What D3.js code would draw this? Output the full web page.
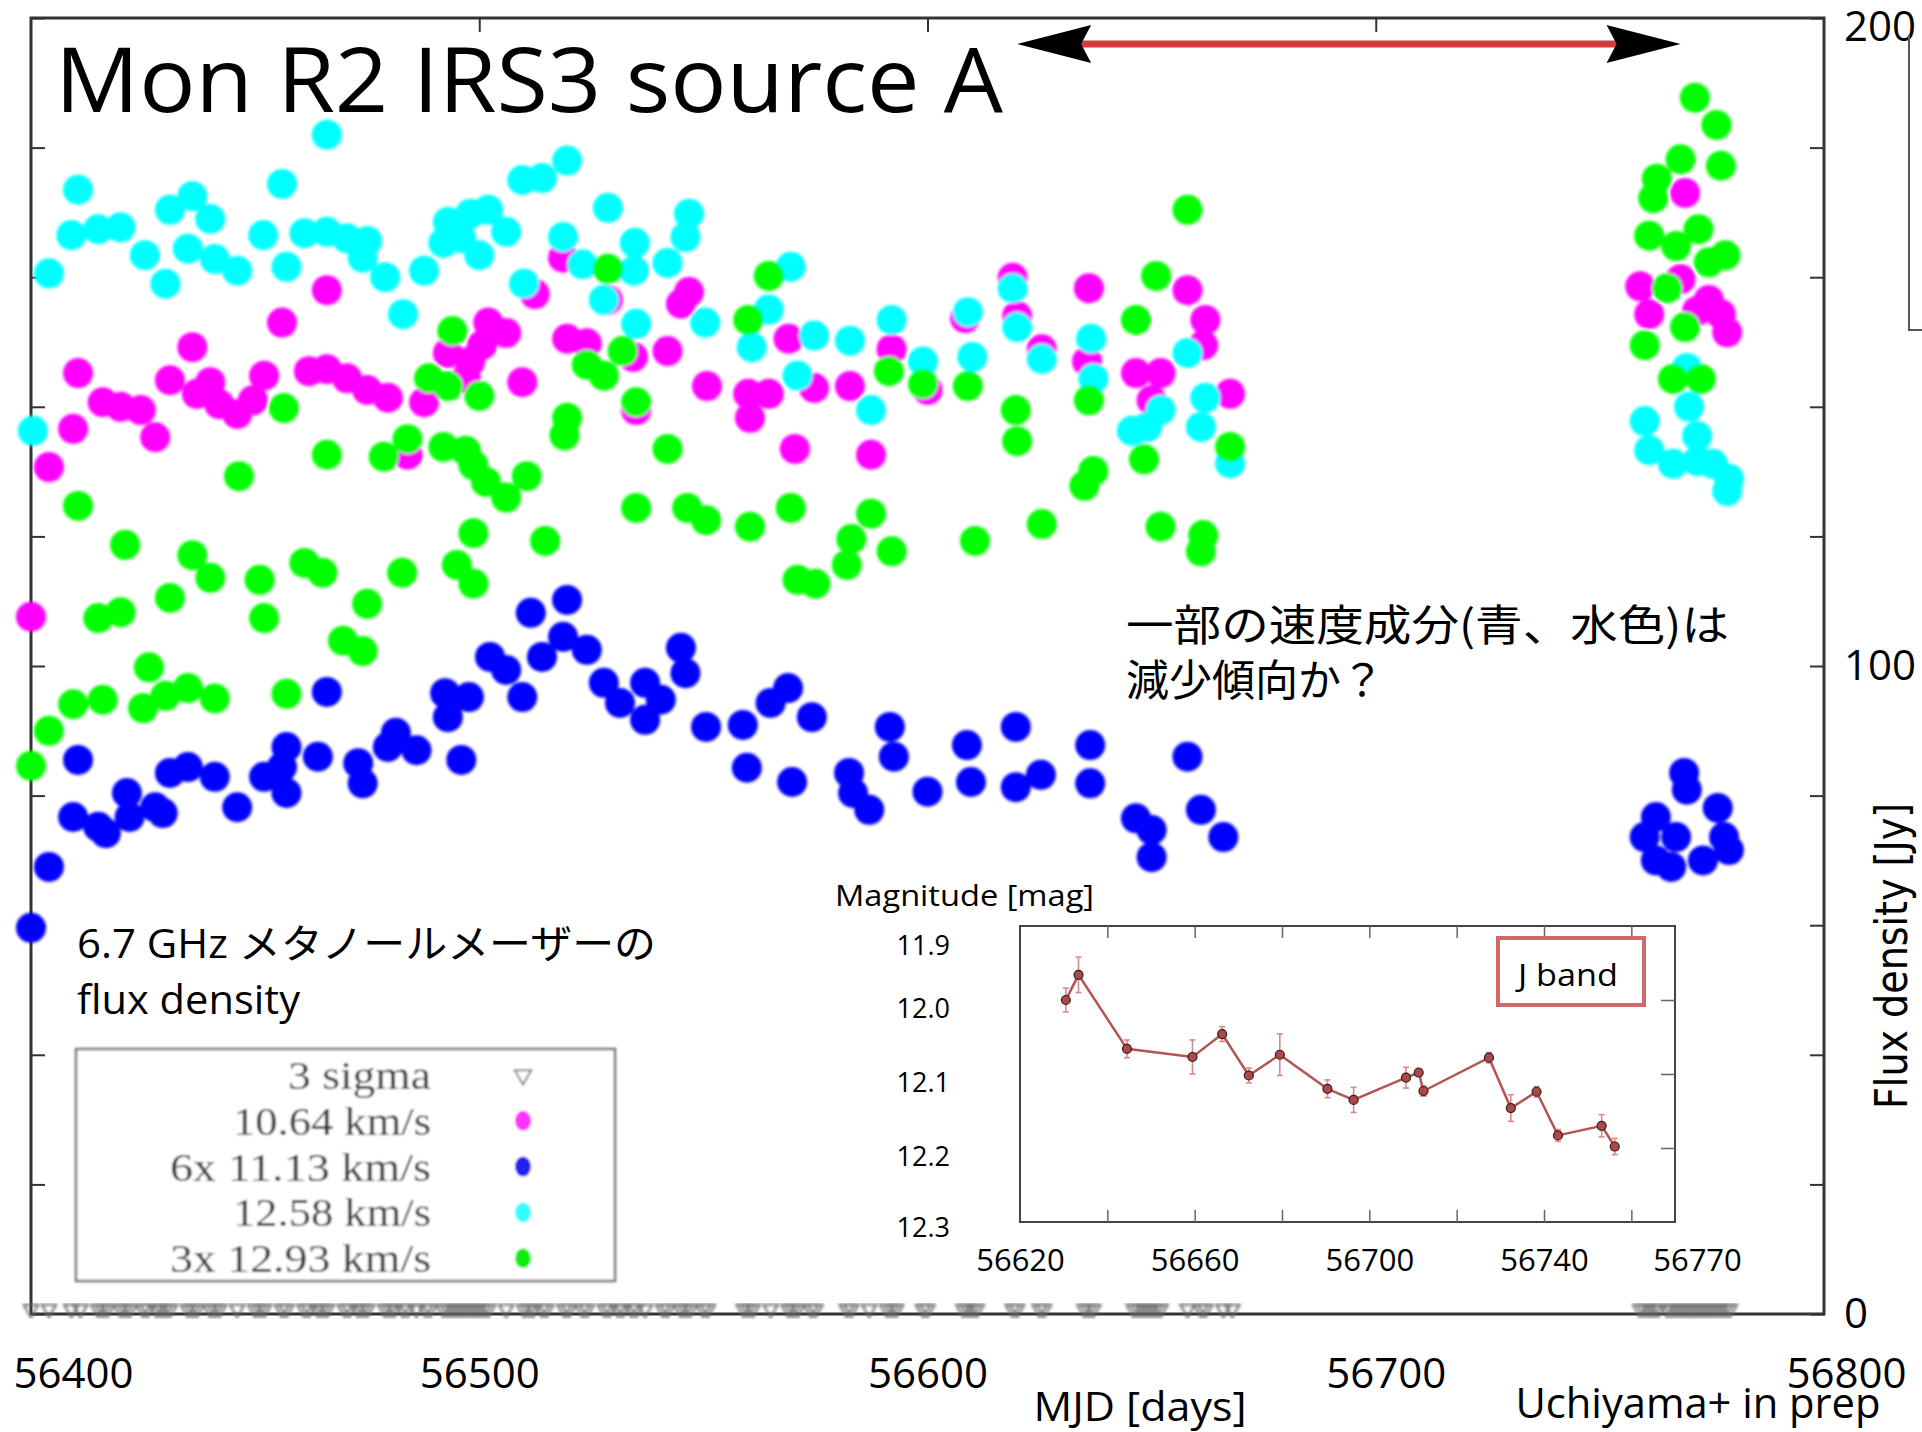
<!DOCTYPE html>
<html>
<head>
<meta charset="utf-8">
<script src="https://cdnjs.cloudflare.com/ajax/libs/d3/7.8.5/d3.min.js"></script>
<style>
body { margin: 0; background: #fff; }
svg { display: block; }
</style>
</head>
<body>
<script>
// 6.7 GHz maser light curves, [MJD, Jy] as plotted
let v1064 = [
  [56400.0,107.6],[56404,130.7],[56409.4,136.6],[56410.5,145.2],[56416,140.7],[56420,140],[56424.5,139.5],
  [56427.7,135.3],[56431,144.1],[56436,149.2],[56437,142],[56440,143.8],[56442,140.4],[56446,138.9],
  [56449.5,141],[56452,144.8],[56456,153],[56462,145.5],[56466,158],[56466,145.8],[56470.5,144.4],
  [56475,142.6],[56479.6,141.4],[56484,132.6],[56487.7,140.7],[56493,148.3],[56497,144.4],[56498,147],
  [56500.6,149.5],[56502,153],[56506,151.4],[56509.6,143.8],[56512.4,157.4],[56518.7,163],[56519.6,150.5],
  [56524,149.8],[56528.7,156.5],[56534.3,147.7],[56535,139.5],[56542,148.6],[56545,155.9],[56546.8,157.7],
  [56550.8,143.2],[56560,142],[56560.4,138.3],[56564.6,142],[56569,150.5],[56570.4,133.5],[56574.7,142.9],
  [56582.7,143.2],[56587.4,132.6],[56592,148.9],[56600,142.6],[56608.4,153.7],[56619,159.9],[56620,154],
  [56625.5,148.9],[56635.6,147],[56636,158.3],[56646.5,145.2],[56650,141],[56652,145.2],[56658,158],
  [56661.5,149.5],[56662,153.4],[56667.5,142],
  [56759,158.6],[56761,154.3],[56768,159.7],[56769,173],[56771.7,154.8],[56774.3,156.5],[56777,154.3],[56778.4,151.5]
]
let v1113 = [
  [56400,59.6],[56404,69],[56409.4,76.7],[56410.5,85.5],[56415,75.2],[56416.7,74.2],[56421.4,80.4],[56422,76.7],
  [56427.7,78.2],[56429.4,77.3],[56431,83.5],[56435,84.4],[56441,82.9],[56446,78.2],[56452,82.9],[56456,84.4],
  [56457,87.5],[56457,80.4],[56464,86],[56466,96],[56473,85],[56474,81.9],[56479.6,87.5],[56481.4,89.7],
  [56486,87],[56492.4,95.8],[56493,92.1],[56496,85.5],[56497.7,95.2],[56502.4,101.4],[56506,99.4],[56509.6,95.2],
  [56511.5,108.2],[56514,101.4],[56518.7,104.5],[56519.6,110.2],[56524,102.5],[56527.8,97.4],[56531.4,94.3],
  [56537,97.4],[56537,91.7],[56540.5,94.8],[56545,102.8],[56546,98.9],[56550.6,90.6],[56558.8,90.9],
  [56559.7,84.3],[56565,94.3],[56568.9,96.6],[56569.8,82.1],[56574.2,92.1],[56582.5,83.5],[56583.4,80.4],
  [56587,77.8],[56591.6,90.6],[56592.5,86],[56600,80.6],[56608.8,87.8],[56609.7,82.1],[56619.7,90.6],
  [56619.7,81.3],[56625.3,83.2],[56636.3,87.8],[56636.3,81.9],[56646.5,76.5],[56650,74.7],[56650,70.5],
  [56658,86],[56661,77.8],[56666,73.6],
  [56760,73.6],[56762.5,76.7],[56762.5,70],[56765.9,69],[56767,73.6],[56768.8,83.5],[56769.4,80.9],
  [56773,70],[56776.3,78.1],[56777.7,73.6],[56778.8,71.6]
]
let v1258 = [
  [56400.4,136.3],[56404,160.6],[56409,166.5],[56410.5,173.5],[56415,167.4],[56420,167.7],[56425.4,163.4],
  [56430,159],[56431,170.4],[56435,164.4],[56436,172.5],[56440,169],[56441,162.8],[56446,161],[56451.8,166.5],
  [56456,174.4],[56457,161.6],[56461,166.8],[56466,182],[56466,167],[56470.5,166],[56474,163],[56475,165.6],
  [56479,160],[56483,154.3],[56487.7,161],[56492,165.3],[56493,168.5],[56496,166],[56498,169.8],[56500,163.4],
  [56502,170.4],[56506,167],[56509.6,175],[56510,159],[56514,175.3],[56518.7,166.2],[56519.6,178],[56523,162],
  [56527.8,156.5],[56528.7,170.7],[56534.5,161],[56534.7,165.3],[56535,152.8],[56542,162.2],[56546,166.2],
  [56546.8,169.8],[56550.4,153],[56560.8,149.2],[56564.6,155],[56569.5,161.6],[56571,144.8],[56574.7,151],
  [56582.7,150.2],[56587.4,139.5],[56592,153.4],[56599,147],[56609,154.6],[56610,147.7],[56619,158.3],
  [56620,152.3],[56625.5,147.4],[56636.5,150.5],[56637,144.4],[56645.6,136.3],[56649,136.9],[56652,139.5],
  [56658,148.3],[56661,136.9],[56662,141.4],[56667.5,131.3],
  [56760,137.8],[56761,133.3],[56766.3,131.2],[56769.4,146],[56769.9,140],[56771.7,135.5],[56771.7,131.6],
  [56775.2,131.2],[56778.4,127],[56778.8,128.9]
]
let v1293 = [
  [56400,84.6],[56404,90],[56409.4,94.1],[56410.5,124.7],[56415,107.4],[56416,94.8],[56420,108.3],[56421,118.7],
  [56425,93.5],[56426.3,99.8],[56430,95.4],[56431,110.5],[56435,96.6],[56436,117.1],[56440,113.6],[56441,95],
  [56446.4,129.3],[56451,113.3],[56452,107.4],[56456.4,139.8],[56457,95.7],[56461,115.9],[56465,114.4],
  [56466,132.6],[56469.6,103.9],[56474,102.3],[56475,109.6],[56478.7,132.3],[56482.8,114.4],[56484,135],
  [56488.8,144.4],[56492,133.8],[56493,143.2],[56494,151.7],[56495,115.6],[56497,133.2],[56498.7,131],
  [56498.7,120.5],[56498.7,112.7],[56500,141.7],[56501.5,128.4],[56506,126],[56510.6,129.3],[56514.7,119.3],
  [56519,135.6],[56519.6,138.3],[56524,146.5],[56527.8,144.8],[56528.7,161.3],[56532,148.6],[56535,140.7],
  [56535,124.4],[56542,133.5],[56546.4,124.4],[56550.6,122.5],[56560,153.4],[56560.4,121.5],[56564.6,160.2],
  [56569.5,124.4],[56571,113.3],[56575,112.7],[56582,115.6],[56583,119.6],[56587.4,123.5],[56591.4,145.5],
  [56592,117.7],[56599,143.5],[56609,143.2],[56610.6,119.3],[56619.7,139.5],[56620,134.7],[56625.5,121.9],
  [56635,127.8],[56636,141],[56637,130.1],[56646.5,153.4],[56648.3,131.9],[56651,160.2],[56652,121.5],
  [56658,170.4],[56661,117.7],[56661.5,120.2],[56667.5,133.8],
  [56760,149.5],[56761,166.4],[56761.9,172.2],[56762.7,175.2],[56765,158.3],[56766.3,144.3],[56767,164.8],
  [56768,178.2],[56769,152.3],[56771.2,187.7],[56772,167.4],[56772.5,144.3],[56774.3,162.3],[56776,183.5],
  [56777,177.2],[56778,163.4]
]

// J band inset: [MJD, mag, error]
let jband = [
  [56630.5,12.000,0.016],[56633.4,11.966,0.024],[56644.5,12.066,0.012],[56659.5,12.077,0.023],
  [56666.3,12.046,0.010],[56672.4,12.102,0.010],[56679.5,12.074,0.028],[56690.4,12.120,0.012],
  [56696.4,12.135,0.017],[56708.4,12.105,0.014],[56711.3,12.098,0.004],[56712.4,12.123,0.007],
  [56727.4,12.078,0.007],[56732.4,12.146,0.018],[56738.3,12.124,0.007],[56743.2,12.183,0.008],
  [56753.2,12.170,0.015],[56756.2,12.198,0.011]
]

let legendLabels = ["3 sigma", "10.64 km/s", "6x 11.13 km/s", "12.58 km/s", "3x 12.93 km/s"]
let xTicks = [56400, 56500, 56600, 56700, 56800]
let yTicks = [0, 20, 40, 60, 80, 100, 120, 140, 160, 180, 200]
let insetXTicks = [56640, 56660, 56680, 56700, 56720, 56740, 56760]
let insetXLabels = [56620, 56660, 56700, 56740, 56770]
let insetYTicks = [11.9, 12.0, 12.1, 12.2, 12.3]
let arrowRange = [56620, 56768]

draw()

function draw() {
    let w = 1922
    let h = 1432
    let svg = setCanvas(w, h)
    let defs = svg.append("defs")
    defs.append("filter").attr("id", "soft")
        .append("feGaussianBlur").attr("stdDeviation", 1.4)
    defs.append("filter").attr("id", "fuzz")
        .append("feGaussianBlur").attr("stdDeviation", 0.9)

    let x = d3.scaleLinear().domain([56400, 56800]).range([31, 1824])
    let y = d3.scaleLinear().domain([0, 200]).range([1314, 18])

    // frame
    svg.append("rect")
        .attr("x", x(56400)).attr("y", y(200))
        .attr("width", x(56800) - x(56400)).attr("height", y(0) - y(200))
        .attr("fill", "none").attr("stroke", "#333").attr("stroke-width", 3)

    let top = svg.append("g").attr("transform", `translate(0,${y(200)})`)
        .call(d3.axisTop(x).tickValues([56500, 56600, 56700]).tickSize(-14).tickFormat(""))
    let bottom = svg.append("g").attr("transform", `translate(0,${y(0)})`)
        .call(d3.axisBottom(x).tickValues(xTicks).tickSize(-14).tickPadding(44).tickFormat(d3.format("d")))
    let left = svg.append("g").attr("transform", `translate(${x(56400)},0)`)
        .call(d3.axisLeft(y).tickValues(yTicks).tickSize(-14).tickFormat(""))
    let right = svg.append("g").attr("transform", `translate(${x(56800)},0)`)
        .call(d3.axisRight(y).tickValues(yTicks).tickSize(-14).tickPadding(20)
            .tickFormat(d => d % 100 === 0 ? d : ""))
    ;[top, bottom, left, right].forEach(a => {
        a.select(".domain").remove()
        a.selectAll("line").attr("stroke", "#333").attr("stroke-width", 2)
        a.selectAll("text").attr("fill", "#000").style("font-family", "'Open Sans'").style("font-size", "42px")
    })
    right.selectAll("text").attr("text-anchor", "start")
        .attr("y", d => d === 200 ? 9 : 0)
    bottom.selectAll(".tick line").attr("stroke", "none")
    bottom.selectAll("text")
        .attr("text-anchor", d => d === 56400 ? "start" : "middle")
        .attr("x", d => d === 56400 ? -18 : (d === 56800 ? 22 : (d === 56700 ? 10 : 0)))

    // 3 sigma upper limits along the bottom
    let dates = Array.from(new Set([v1064, v1113, v1258, v1293].flat().map(d => Math.round(d[0])))).sort((a, b) => a - b)
    svg.append("g").attr("filter", "url(#soft)").selectAll("path")
        .data(dates)
        .enter()
        .append("path")
            .attr("d", d3.symbol(d3.symbolTriangle, 90))
            .attr("transform", d => `translate(${x(d)},${y(0.8)}) rotate(180)`)
            .attr("fill", "none").attr("stroke", "#666").attr("stroke-width", 2)

    // maser points
    let series = [
        {data: v1064, color: "#ff00ff"},
        {data: v1113, color: "#0000ff"},
        {data: v1258, color: "#00ffff"},
        {data: v1293, color: "#00ff00"}
    ]
    let pts = svg.append("g").attr("filter", "url(#soft)")
    series.forEach(s => {
        pts.append("g").selectAll("circle")
            .data(s.data)
            .enter()
            .append("circle")
                .attr("cx", d => x(d[0]))
                .attr("cy", d => y(d[1]))
                .attr("r", 15)
                .attr("fill", s.color)
    })

    // arrow showing the J band period
    let ay = y(196)
    let x0 = x(arrowRange[0]), x1 = x(arrowRange[1])
    svg.append("line")
        .attr("x1", x0 + 60).attr("x2", x1 - 60).attr("y1", ay).attr("y2", ay)
        .attr("stroke", "#d23c3c").attr("stroke-width", 7)
    svg.append("path")
        .attr("d", `M${x0},${ay} L${x0 + 74},${ay - 19} L${x0 + 64},${ay} L${x0 + 74},${ay + 19} Z`)
        .attr("fill", "#000")
    svg.append("path")
        .attr("d", `M${x1},${ay} L${x1 - 74},${ay - 19} L${x1 - 64},${ay} L${x1 - 74},${ay + 19} Z`)
        .attr("fill", "#000")

    // title and notes
    svg.append("text").attr("x", 55).attr("y", 112)
        .attr("font-family", "'Open Sans'").attr("font-size", 90)
        .attr("textLength", 948).attr("lengthAdjust", "spacingAndGlyphs")
        .text("Mon R2 IRS3 source A")
    svg.append("text").attr("x", 1126).attr("y", 641)
        .attr("font-family", "'Noto Sans CJK JP'").attr("font-size", 43)
        .attr("textLength", 603).attr("lengthAdjust", "spacingAndGlyphs")
        .text("一部の速度成分(青、水色)は")
    svg.append("text").attr("x", 1126).attr("y", 696)
        .attr("font-family", "'Noto Sans CJK JP'").attr("font-size", 43)
        .text("減少傾向か？")
    svg.append("text").attr("x", 77).attr("y", 958)
        .attr("font-family", "'Open Sans','Noto Sans CJK JP'").attr("font-size", 40)
        .attr("textLength", 579).attr("lengthAdjust", "spacingAndGlyphs")
        .text("6.7 GHz メタノールメーザーの")
    svg.append("text").attr("x", 77).attr("y", 1014)
        .attr("font-family", "'Open Sans'").attr("font-size", 40)
        .attr("textLength", 223).attr("lengthAdjust", "spacingAndGlyphs")
        .text("flux density")

    drawLegend(svg)
    drawInset(svg)

    // axis titles
    svg.append("text").attr("x", 1140).attr("y", 1421)
        .attr("text-anchor", "middle")
        .attr("font-family", "'Open Sans'").attr("font-size", 40)
        .attr("textLength", 213).attr("lengthAdjust", "spacingAndGlyphs")
        .text("MJD [days]")
    svg.append("text").attr("x", 1698).attr("y", 1418)
        .attr("text-anchor", "middle")
        .attr("font-family", "'Open Sans'").attr("font-size", 42)
        .attr("textLength", 365).attr("lengthAdjust", "spacingAndGlyphs")
        .text("Uchiyama+ in prep")
    svg.append("text")
        .attr("transform", "translate(1891,956) rotate(-90)")
        .attr("text-anchor", "middle").attr("dominant-baseline", "central")
        .attr("font-family", "'DejaVu Sans'").attr("font-size", 44)
        .attr("textLength", 306).attr("lengthAdjust", "spacingAndGlyphs")
        .text("Flux density [Jy]")

    // edge of a box cut off at the right
    svg.append("path").attr("d", "M1909,35 L1909,330 L1922,330")
        .attr("fill", "none").attr("stroke", "#555").attr("stroke-width", 2)
}

function drawLegend(svg) {
    let g = svg.append("g").attr("filter", "url(#fuzz)")
    g.append("rect").attr("x", 76).attr("y", 1049).attr("width", 539).attr("height", 232)
        .attr("fill", "#fff").attr("stroke", "#777").attr("stroke-width", 2.5)
    let widths = [143, 198, 261, 198, 261]
    let colors = [null, "#ff33ff", "#2222ee", "#33ffff", "#11ee11"]
    legendLabels.forEach((l, i) => {
        let cy = 1075 + i * 45.8
        g.append("text").attr("x", 431).attr("y", cy)
            .attr("text-anchor", "end").attr("dominant-baseline", "central")
            .attr("font-family", "'Liberation Serif'").attr("font-size", 41).attr("fill", "#333")
            .attr("textLength", widths[i]).attr("lengthAdjust", "spacingAndGlyphs")
            .text(l)
        if (i === 0) {
            g.append("path").attr("d", d3.symbol(d3.symbolTriangle, 120))
                .attr("transform", `translate(523,${cy}) rotate(180)`)
                .attr("fill", "none").attr("stroke", "#888").attr("stroke-width", 2)
        } else {
            g.append("ellipse").attr("cx", 523).attr("cy", cy).attr("rx", 8).attr("ry", 10)
                .attr("fill", colors[i])
        }
    })
}

function drawInset(svg) {
    let xi = d3.scaleLinear().domain([56620, 56770]).range([1020, 1675])
    let yi = d3.scaleLinear().domain([11.9, 12.3]).range([926, 1222])
    svg.append("rect").attr("x", xi(56620)).attr("y", yi(11.9))
        .attr("width", xi(56770) - xi(56620)).attr("height", yi(12.3) - yi(11.9))
        .attr("fill", "#fff").attr("stroke", "#444").attr("stroke-width", 2)

    let axes = [
        svg.append("g").attr("transform", `translate(0,${yi(11.9)})`)
            .call(d3.axisTop(xi).tickValues(insetXTicks).tickSize(-12).tickFormat("")),
        svg.append("g").attr("transform", `translate(0,${yi(12.3)})`)
            .call(d3.axisBottom(xi).tickValues(insetXTicks).tickSize(-12).tickFormat("")),
        svg.append("g").attr("transform", `translate(${xi(56770)},0)`)
            .call(d3.axisRight(yi).tickValues([12.0, 12.1, 12.2]).tickSize(-14).tickFormat("")),
        svg.append("g").attr("transform", `translate(0,${yi(12.3)})`)
            .call(d3.axisBottom(xi).tickValues(insetXLabels).tickSize(0).tickPadding(27).tickFormat(d3.format("d"))),
        svg.append("g").attr("transform", `translate(${xi(56620)},0)`)
            .call(d3.axisLeft(yi).tickValues(insetYTicks).tickSize(0).tickPadding(70).tickFormat(d3.format(".1f")))
    ]
    axes.forEach(a => {
        a.select(".domain").remove()
        a.selectAll("line").attr("stroke", "#666").attr("stroke-width", 1.5)
        a.selectAll("text").attr("fill", "#000").style("font-family", "'Open Sans'")
    })
    axes[3].selectAll("text").style("font-size", "31px")
        .attr("x", d => d === 56770 ? 22 : 0)
    axes[4].selectAll("text").style("font-size", "27px")
        .attr("y", d => d === 11.9 ? 20 : (d === 12.3 ? 6 : 9))

    svg.append("text").attr("x", 835).attr("y", 906)
        .attr("font-family", "'Open Sans'").attr("font-size", 29)
        .attr("textLength", 259).attr("lengthAdjust", "spacingAndGlyphs")
        .text("Magnitude [mag]")

    // J band legend box
    svg.append("rect").attr("x", 1498).attr("y", 938).attr("width", 146).attr("height", 67)
        .attr("fill", "#fff").attr("stroke", "#d06a6a").attr("stroke-width", 4)
    svg.append("text").attr("x", 1568).attr("y", 974)
        .attr("text-anchor", "middle").attr("dominant-baseline", "central")
        .attr("font-family", "'Open Sans'").attr("font-size", 31)
        .attr("textLength", 100).attr("lengthAdjust", "spacingAndGlyphs")
        .text("J band")

    let eb = svg.append("g").attr("stroke", "#d98a8a").attr("stroke-width", 1.6)
    eb.selectAll("line.v").data(jband).enter().append("line")
        .attr("x1", d => xi(d[0])).attr("x2", d => xi(d[0]))
        .attr("y1", d => yi(d[1] - d[2])).attr("y2", d => yi(d[1] + d[2]))
    eb.selectAll("line.t").data(jband).enter().append("line")
        .attr("x1", d => xi(d[0]) - 3).attr("x2", d => xi(d[0]) + 3)
        .attr("y1", d => yi(d[1] - d[2])).attr("y2", d => yi(d[1] - d[2]))
    eb.selectAll("line.b").data(jband).enter().append("line")
        .attr("x1", d => xi(d[0]) - 3).attr("x2", d => xi(d[0]) + 3)
        .attr("y1", d => yi(d[1] + d[2])).attr("y2", d => yi(d[1] + d[2]))

    svg.append("path").datum(jband)
        .attr("d", d3.line().x(d => xi(d[0])).y(d => yi(d[1])))
        .attr("fill", "none").attr("stroke", "#b35555").attr("stroke-width", 2.5)
    svg.append("g").selectAll("circle")
        .data(jband)
        .enter()
        .append("circle")
            .attr("cx", d => xi(d[0])).attr("cy", d => yi(d[1])).attr("r", 4.5)
            .attr("fill", "#a84a4a").attr("stroke", "#3a1a1a").attr("stroke-width", 1.2)
}

function setCanvas(w, h) {
    let svg = d3.select("body")
        .append("svg")
            .attr("width", w)
            .attr("height", h)
    svg.append("rect").attr("width", w).attr("height", h).attr("fill", "#fff")
    return svg
}
</script>
</body>
</html>
